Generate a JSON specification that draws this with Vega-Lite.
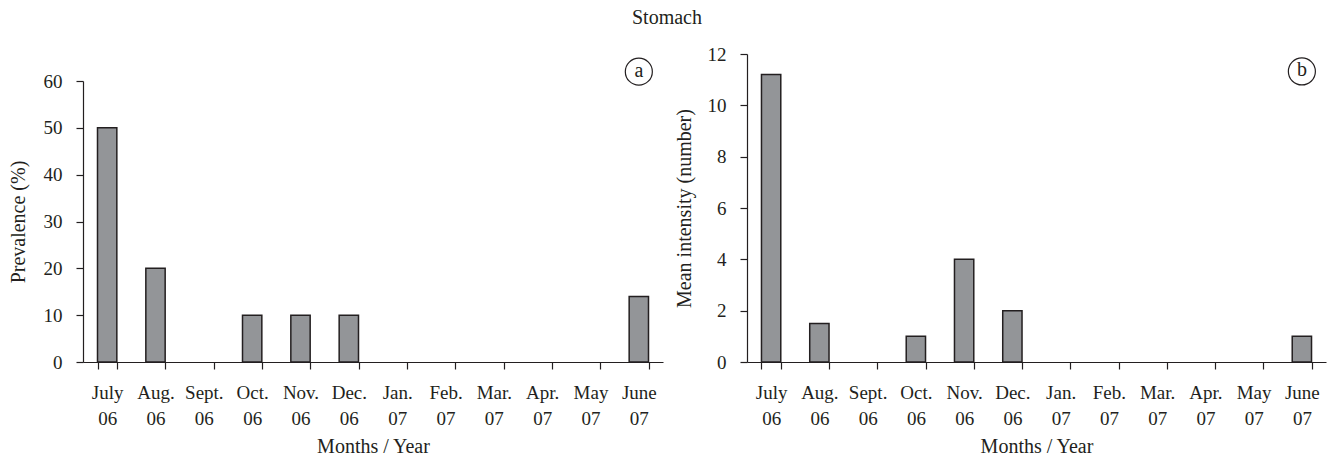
{
  "$schema": "https://vega.github.io/schema/vega-lite/v6.json",
  "background": "white",
  "padding": {"left": 8, "top": 8, "right": 6, "bottom": 0},
  "title": {"text": "Stomach", "font": "Liberation Serif", "fontSize": 20, "fontWeight": "normal", "color": "#231f20", "anchor": "middle", "offset": 17},
  "datasets": {
    "prev": [
      {"month": "July 06", "value": 50},
      {"month": "Aug. 06", "value": 20},
      {"month": "Sept. 06", "value": 0},
      {"month": "Oct. 06", "value": 10},
      {"month": "Nov. 06", "value": 10},
      {"month": "Dec. 06", "value": 10},
      {"month": "Jan. 07", "value": 0},
      {"month": "Feb. 07", "value": 0},
      {"month": "Mar. 07", "value": 0},
      {"month": "Apr. 07", "value": 0},
      {"month": "May 07", "value": 0},
      {"month": "June 07", "value": 14}
    ],
    "mi": [
      {"month": "July 06", "value": 11.2},
      {"month": "Aug. 06", "value": 1.5},
      {"month": "Sept. 06", "value": 0},
      {"month": "Oct. 06", "value": 1},
      {"month": "Nov. 06", "value": 4},
      {"month": "Dec. 06", "value": 2},
      {"month": "Jan. 07", "value": 0},
      {"month": "Feb. 07", "value": 0},
      {"month": "Mar. 07", "value": 0},
      {"month": "Apr. 07", "value": 0},
      {"month": "May 07", "value": 0},
      {"month": "June 07", "value": 1}
    ],
    "tagA": [{"month": "June 07", "value": 62, "tag": "a"}],
    "tagB": [{"month": "June 07", "value": 11.32, "tag": "b"}]
  },
  "config": {
    "font": "Liberation Serif",
    "view": {"stroke": null},
    "axis": {
      "grid": false,
      "labelFont": "Liberation Serif",
      "titleFont": "Liberation Serif",
      "labelFontSize": 19,
      "titleFontSize": 20,
      "titleFontWeight": "normal",
      "labelColor": "#231f20",
      "titleColor": "#231f20",
      "domainColor": "#231f20",
      "tickColor": "#231f20",
      "domainWidth": 1.2,
      "tickWidth": 1.2,
      "tickSize": 7
    }
  },
  "spacing": 11,
  "hconcat": [
    {
      "vconcat": [
        {
          "width": 580,
          "height": 27,
          "data": {"values": []},
          "mark": "text",
          "encoding": {}
        },
        {
          "width": 580,
          "height": 281,
          "layer": [
            {
              "data": {"name": "prev"},
              "transform": [{"filter": "datum.value > 0"}],
              "mark": {"type": "bar", "fill": "#939598", "stroke": "#231f20", "strokeWidth": 1.5},
              "encoding": {
                "x": {
                  "field": "month", "type": "ordinal",
                  "scale": {"domain": ["July 06", "Aug. 06", "Sept. 06", "Oct. 06", "Nov. 06", "Dec. 06", "Jan. 07", "Feb. 07", "Mar. 07", "Apr. 07", "May 07", "June 07"], "paddingInner": 0.6, "paddingOuter": 0.3},
                  "axis": {"title": "Months / Year", "labelAngle": 0, "labelExpr": "split(datum.label, ' ')", "labelLineHeight": 26, "labelPadding": 14, "tickBand": "extent", "titlePadding": 8, "labelBaseline": "top"}
                },
                "y": {
                  "field": "value", "type": "quantitative",
                  "scale": {"domain": [0, 60], "nice": false},
                  "axis": {"title": "Prevalence (%)", "values": [0, 10, 20, 30, 40, 50, 60], "labelPadding": 14, "titlePadding": 15}
                }
              }
            },
            {
              "data": {"name": "tagA"},
              "mark": {"type": "point", "shape": "circle", "size": 730, "filled": false, "stroke": "#231f20", "strokeWidth": 1.2, "opacity": 1},
              "encoding": {
                "x": {"field": "month", "type": "ordinal"},
                "y": {"field": "value", "type": "quantitative"}
              }
            },
            {
              "data": {"name": "tagA"},
              "mark": {"type": "text", "fontSize": 20, "color": "#231f20", "baseline": "middle", "dy": -1},
              "encoding": {
                "x": {"field": "month", "type": "ordinal"},
                "y": {"field": "value", "type": "quantitative"},
                "text": {"field": "tag"}
              }
            }
          ]
        }
      ],
      "spacing": 0,
      "bounds": "flush"
    },
    {
      "width": 579,
      "height": 308,
      "layer": [
        {
          "data": {"name": "mi"},
          "transform": [{"filter": "datum.value > 0"}],
          "mark": {"type": "bar", "fill": "#939598", "stroke": "#231f20", "strokeWidth": 1.5},
          "encoding": {
            "x": {
              "field": "month", "type": "ordinal",
              "scale": {"domain": ["July 06", "Aug. 06", "Sept. 06", "Oct. 06", "Nov. 06", "Dec. 06", "Jan. 07", "Feb. 07", "Mar. 07", "Apr. 07", "May 07", "June 07"], "paddingInner": 0.6, "paddingOuter": 0.3},
              "axis": {"title": "Months / Year", "labelAngle": 0, "labelExpr": "split(datum.label, ' ')", "labelLineHeight": 26, "labelPadding": 14, "tickBand": "extent", "titlePadding": 8, "labelBaseline": "top"}
            },
            "y": {
              "field": "value", "type": "quantitative",
              "scale": {"domain": [0, 12], "nice": false},
              "axis": {"title": "Mean intensity (number)", "values": [0, 2, 4, 6, 8, 10, 12], "labelPadding": 14, "titlePadding": 13}
            }
          }
        },
        {
          "data": {"name": "tagB"},
          "mark": {"type": "point", "shape": "circle", "size": 730, "filled": false, "stroke": "#231f20", "strokeWidth": 1.2, "opacity": 1},
          "encoding": {
            "x": {"field": "month", "type": "ordinal"},
            "y": {"field": "value", "type": "quantitative"}
          }
        },
        {
          "data": {"name": "tagB"},
          "mark": {"type": "text", "fontSize": 20, "color": "#231f20", "baseline": "middle", "dy": -1},
          "encoding": {
            "x": {"field": "month", "type": "ordinal"},
            "y": {"field": "value", "type": "quantitative"},
            "text": {"field": "tag"}
          }
        }
      ]
    }
  ]
}
